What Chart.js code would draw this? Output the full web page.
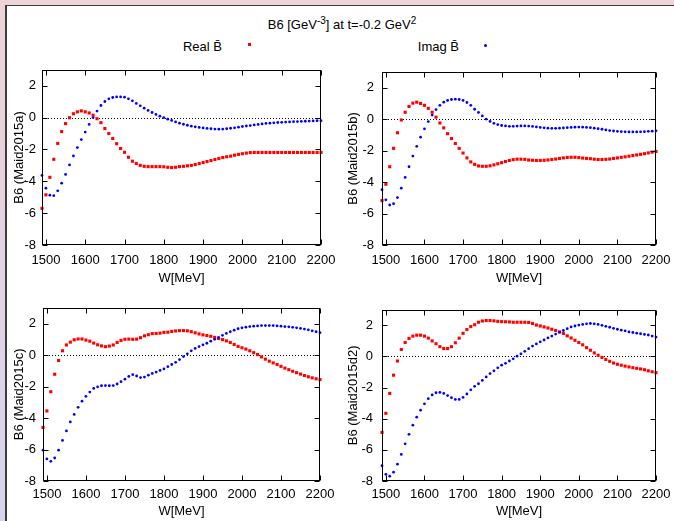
<!DOCTYPE html>
<html lang="en">
<head>
    <meta charset="UTF-8">
    <title>B6 Maid2015</title>
    <script src="https://cdnjs.cloudflare.com/ajax/libs/Chart.js/4.4.1/chart.umd.min.js"></script>
    <style>
        html, body {
            margin: 0;
            width: 674px;
            height: 521px;
            overflow: hidden;
        }
        body {
            position: relative;
            background: linear-gradient(to bottom, #eed3d7, #d7d3ef);
            font-family: "Liberation Sans", Arial, sans-serif;
            color: #000;
        }
        #frame {
            position: absolute;
            left: 5px;
            top: 5px;
            right: 0;
            bottom: 0;
            background: #fff;
            border-left: 2px solid #3c3c3c;
            border-top: 1px solid #3c3c3c;
        }
        #title, .key {
            position: absolute;
            font-size: 13px;
            line-height: 16px;
            white-space: nowrap;
        }
        #title {
            left: 242px;
            width: 200px;
            top: 17px;
            text-align: center;
        }
        #title sup {
            font-size: 10px;
            line-height: 0;
            vertical-align: 5px;
        }
        .key {
            width: 100px;
            top: 39px;
            text-align: right;
        }
        .mark {
            position: absolute;
            width: 3px;
            height: 3px;
        }
        canvas {
            position: absolute;
        }
    </style>
</head>
<body>
    <div id="frame"></div>
    <div id="title">B6 [GeV<sup>-3</sup>] at t=-0.2 GeV<sup>2</sup></div>
    <div class="key" style="left:122px">Real B&#772;</div>
    <div class="mark" style="left:248px; top:43px; background:#f00"></div>
    <div class="key" style="left:359px">Imag B&#772;</div>
    <div class="mark" style="left:484px; top:44px; background:#00f; border-radius:50%"></div>

    <canvas id="c1" width="339" height="234" style="left:6px; top:56px"></canvas>
    <canvas id="c2" width="340" height="234" style="left:340px; top:56px"></canvas>
    <canvas id="c3" width="338" height="228" style="left:6px; top:293px"></canvas>
    <canvas id="c4" width="340" height="228" style="left:340px; top:293px"></canvas>

    <script>
        // energy grid W [MeV]
        const W = [
            1490, 1500, 1510, 1520, 1530, 1540, 1550, 1560, 1570, 1580, 1590, 1600,
            1610, 1620, 1630, 1640, 1650, 1660, 1670, 1680, 1690, 1700, 1710, 1720,
            1730, 1740, 1750, 1760, 1770, 1780, 1790, 1800, 1810, 1820, 1830, 1840,
            1850, 1860, 1870, 1880, 1890, 1900, 1910, 1920, 1930, 1940, 1950, 1960,
            1970, 1980, 1990, 2000, 2010, 2020, 2030, 2040, 2050, 2060, 2070, 2080,
            2090, 2100, 2110, 2120, 2130, 2140, 2150, 2160, 2170, 2180, 2190, 2200
        ];

        const wTicks = [1500, 1600, 1700, 1800, 1900, 2000, 2100, 2200];
        const yTicks = [-8, -6, -4, -2, 0, 2];

        const realA = [
            -5.70, -4.85, -3.75, -2.62, -1.62, -0.88, -0.38, -0.01, 0.24, 0.36, 0.42, 0.36,
            0.29, 0.15, -0.07, -0.32, -0.69, -1.00, -1.31, -1.64, -1.94, -2.18, -2.49, -2.74,
            -2.88, -3.00, -3.06, -3.08, -3.08, -3.08, -3.08, -3.09, -3.12, -3.14, -3.12, -3.08,
            -3.06, -3.03, -3.00, -2.95, -2.89, -2.82, -2.76, -2.70, -2.63, -2.57, -2.51, -2.46,
            -2.42, -2.36, -2.31, -2.27, -2.23, -2.20, -2.19, -2.19, -2.19, -2.19, -2.19, -2.19,
            -2.19, -2.19, -2.19, -2.19, -2.19, -2.19, -2.19, -2.19, -2.19, -2.19, -2.19, -2.19
        ];
        const imagA = [
            -3.63, -4.43, -4.87, -4.90, -4.60, -4.12, -3.57, -2.97, -2.41, -1.88, -1.38, -0.91,
            -0.43, 0.00, 0.41, 0.76, 1.01, 1.18, 1.26, 1.30, 1.30, 1.28, 1.18, 1.05,
            0.89, 0.74, 0.59, 0.45, 0.32, 0.20, 0.09, 0.00, -0.10, -0.18, -0.27, -0.35,
            -0.42, -0.48, -0.54, -0.58, -0.62, -0.65, -0.68, -0.70, -0.72, -0.73, -0.72, -0.70,
            -0.67, -0.64, -0.60, -0.56, -0.53, -0.50, -0.46, -0.43, -0.40, -0.37, -0.35, -0.33,
            -0.31, -0.30, -0.28, -0.27, -0.26, -0.25, -0.24, -0.23, -0.22, -0.21, -0.20, -0.20
        ];

        const realB = [
            -5.18, -4.14, -3.03, -1.86, -0.87, -0.06, 0.43, 0.80, 1.01, 1.07, 0.99, 0.87,
            0.68, 0.43, 0.12, -0.25, -0.56, -0.93, -1.24, -1.55, -1.86, -2.16, -2.47, -2.72,
            -2.88, -2.98, -3.00, -3.00, -2.97, -2.91, -2.84, -2.77, -2.70, -2.63, -2.58, -2.55,
            -2.55, -2.56, -2.60, -2.62, -2.63, -2.63, -2.62, -2.60, -2.57, -2.54, -2.50, -2.47,
            -2.44, -2.43, -2.43, -2.45, -2.48, -2.50, -2.52, -2.55, -2.57, -2.57, -2.56, -2.54,
            -2.50, -2.47, -2.43, -2.40, -2.36, -2.32, -2.28, -2.24, -2.20, -2.15, -2.10, -2.06
        ];
        const imagB = [
            -4.49, -5.13, -5.46, -5.38, -4.99, -4.39, -3.71, -3.03, -2.35, -1.73, -1.15, -0.62,
            -0.16, 0.25, 0.60, 0.87, 1.07, 1.18, 1.24, 1.26, 1.24, 1.18, 1.05, 0.87,
            0.62, 0.42, 0.20, 0.00, -0.15, -0.27, -0.35, -0.41, -0.44, -0.46, -0.46, -0.45,
            -0.44, -0.44, -0.45, -0.47, -0.50, -0.53, -0.56, -0.58, -0.59, -0.59, -0.58, -0.57,
            -0.55, -0.53, -0.52, -0.51, -0.52, -0.53, -0.55, -0.58, -0.61, -0.65, -0.69, -0.73,
            -0.76, -0.78, -0.80, -0.81, -0.82, -0.82, -0.82, -0.81, -0.80, -0.78, -0.77, -0.75
        ];

        const realC = [
            -4.60, -3.55, -2.33, -1.22, -0.35, 0.27, 0.64, 0.82, 0.97, 1.02, 1.02, 0.95,
            0.88, 0.76, 0.65, 0.58, 0.53, 0.57, 0.64, 0.80, 0.93, 1.00, 1.01, 1.00,
            1.01, 1.10, 1.22, 1.29, 1.36, 1.37, 1.39, 1.44, 1.45, 1.50, 1.53, 1.55,
            1.55, 1.54, 1.48, 1.41, 1.34, 1.28, 1.24, 1.19, 1.12, 1.05, 0.98, 0.90,
            0.80, 0.67, 0.55, 0.46, 0.38, 0.27, 0.15, 0.03, -0.12, -0.26, -0.39, -0.50,
            -0.60, -0.72, -0.83, -0.93, -1.03, -1.12, -1.21, -1.30, -1.38, -1.45, -1.51, -1.56
        ];
        const imagC = [
            -6.04, -6.60, -6.75, -6.54, -6.04, -5.42, -4.82, -4.25, -3.77, -3.32, -2.93, -2.62,
            -2.35, -2.12, -2.02, -1.95, -1.94, -1.95, -1.94, -1.84, -1.69, -1.53, -1.36, -1.25,
            -1.33, -1.43, -1.40, -1.28, -1.17, -1.08, -0.98, -0.88, -0.74, -0.60, -0.46, -0.29,
            -0.10, 0.08, 0.27, 0.42, 0.54, 0.65, 0.75, 0.88, 1.00, 1.12, 1.25, 1.37,
            1.48, 1.58, 1.67, 1.73, 1.77, 1.81, 1.83, 1.85, 1.87, 1.87, 1.87, 1.87,
            1.85, 1.83, 1.81, 1.79, 1.76, 1.73, 1.69, 1.65, 1.60, 1.54, 1.48, 1.42
        ];

        const realD = [
            -4.88, -3.65, -2.37, -1.20, -0.29, 0.45, 0.90, 1.16, 1.31, 1.37, 1.37, 1.31,
            1.18, 1.00, 0.82, 0.63, 0.51, 0.51, 0.63, 0.88, 1.18, 1.49, 1.73, 1.92,
            2.04, 2.20, 2.28, 2.31, 2.31, 2.29, 2.26, 2.24, 2.23, 2.22, 2.20, 2.20,
            2.20, 2.20, 2.19, 2.12, 2.02, 1.96, 1.90, 1.83, 1.75, 1.67, 1.58, 1.48,
            1.33, 1.19, 1.04, 0.90, 0.75, 0.57, 0.40, 0.23, 0.08, -0.06, -0.19, -0.31,
            -0.42, -0.50, -0.56, -0.62, -0.67, -0.72, -0.76, -0.80, -0.85, -0.92, -0.98, -1.04
        ];
        const imagD = [
            -7.02, -7.57, -7.69, -7.43, -6.92, -6.29, -5.61, -5.00, -4.41, -3.90, -3.45, -3.04,
            -2.71, -2.47, -2.33, -2.31, -2.37, -2.51, -2.65, -2.76, -2.76, -2.63, -2.41, -2.14,
            -1.92, -1.75, -1.54, -1.31, -1.10, -0.92, -0.73, -0.56, -0.44, -0.29, -0.15, 0.02,
            0.17, 0.33, 0.50, 0.67, 0.81, 0.94, 1.06, 1.19, 1.31, 1.44, 1.56, 1.67,
            1.79, 1.90, 1.96, 2.02, 2.06, 2.10, 2.12, 2.10, 2.06, 2.00, 1.94, 1.88,
            1.81, 1.75, 1.69, 1.65, 1.58, 1.54, 1.50, 1.46, 1.42, 1.38, 1.31, 1.25
        ];

        const models = ['Maid2015a', 'Maid2015b', 'Maid2015c', 'Maid2015d2'];

        // canvas id, y-axis box width, x-axis box height, paddings
        const panels = [
            { id: 'c1', real: realA, imag: imagA, yw: 36, xh: 45, tickPad: 8, xTitlePad: 4, yTickPad: 6 },
            { id: 'c2', real: realB, imag: imagB, yw: 42, xh: 45, tickPad: 8, xTitlePad: 4, yTickPad: 8 },
            { id: 'c3', real: realC, imag: imagC, yw: 37, xh: 40, tickPad: 6, xTitlePad: 2, yTickPad: 7 },
            { id: 'c4', real: realD, imag: imagD, yw: 42, xh: 40, tickPad: 6, xTitlePad: 2, yTickPad: 9 }
        ];

        const font = { family: '"Liberation Sans", Arial, sans-serif', size: 13 };

        // gnuplot-like frame: inward ticks on all four sides, dotted zero axis
        const framePlugin = {
            id: 'frame',
            beforeDatasetsDraw(chart) {
                const { ctx, chartArea: a, scales: { y } } = chart;
                const y0 = Math.round(y.getPixelForValue(0)) + 0.5;
                ctx.save();
                ctx.strokeStyle = '#000';
                ctx.lineWidth = 1;
                ctx.setLineDash([1, 2]);
                ctx.beginPath();
                ctx.moveTo(a.left, y0);
                ctx.lineTo(a.right, y0);
                ctx.stroke();
                ctx.restore();
            },
            afterDraw(chart) {
                const { ctx, chartArea: a, scales: { x, y } } = chart;
                const L = Math.round(a.left) + 0.5, R = Math.round(a.right) - 0.5;
                const T = Math.round(a.top) + 0.5, B = Math.round(a.bottom) - 0.5;
                const len = 5;
                ctx.save();
                ctx.strokeStyle = '#000';
                ctx.lineWidth = 1;
                ctx.beginPath();
                x.ticks.forEach(t => {
                    const px = Math.round(x.getPixelForValue(t.value)) + 0.5;
                    ctx.moveTo(px, B); ctx.lineTo(px, B - len);
                    ctx.moveTo(px, T); ctx.lineTo(px, T + len);
                });
                y.ticks.forEach(t => {
                    const py = Math.round(y.getPixelForValue(t.value)) + 0.5;
                    ctx.moveTo(L, py); ctx.lineTo(L + len, py);
                    ctx.moveTo(R, py); ctx.lineTo(R - len, py);
                });
                ctx.stroke();
                ctx.strokeRect(L, T, R - L, B - T);
                ctx.restore();
            }
        };

        function series(values) {
            return W.map((w, i) => ({ x: w, y: values[i] }));
        }

        panels.forEach((p, k) => {
            new Chart(document.getElementById(p.id), {
                type: 'scatter',
                data: {
                    datasets: [
                        {
                            label: 'Real',
                            data: series(p.real),
                            pointStyle: 'rect',
                            pointRadius: 2.2,
                            pointBorderWidth: 0,
                            backgroundColor: '#ff0000',
                            clip: false,
                            order: 2
                        },
                        {
                            label: 'Imag',
                            data: series(p.imag),
                            pointStyle: 'circle',
                            pointRadius: 1.4,
                            pointBorderWidth: 0,
                            backgroundColor: '#0000ff',
                            clip: false,
                            order: 1
                        }
                    ]
                },
                options: {
                    responsive: false,
                    animation: false,
                    devicePixelRatio: 1,
                    layout: { padding: { top: 11, right: 24, left: 0, bottom: 0 } },
                    plugins: {
                        legend: { display: false },
                        tooltip: { enabled: false }
                    },
                    scales: {
                        x: {
                            type: 'linear',
                            min: 1490,
                            max: 2200,
                            grid: { display: false, drawTicks: false },
                            border: { display: false },
                            afterBuildTicks: s => { s.ticks = wTicks.map(v => ({ value: v })); },
                            afterFit: s => { s.height = p.xh; },
                            ticks: {
                                font: font,
                                color: '#000',
                                padding: p.tickPad,
                                maxRotation: 0,
                                autoSkip: false,
                                callback: v => String(v)
                            },
                            title: {
                                display: true,
                                text: 'W[MeV]',
                                font: font,
                                color: '#000',
                                padding: { top: 0, bottom: p.xTitlePad }
                            }
                        },
                        y: {
                            min: -8,
                            max: 3,
                            grid: { display: false, drawTicks: false },
                            border: { display: false },
                            afterBuildTicks: s => { s.ticks = yTicks.map(v => ({ value: v })); },
                            afterFit: s => { s.width = p.yw; },
                            ticks: {
                                font: font,
                                color: '#000',
                                padding: p.yTickPad,
                                callback: v => String(v)
                            },
                            title: {
                                display: true,
                                text: 'B6 (' + models[k] + ')',
                                font: font,
                                color: '#000',
                                padding: { top: 6, bottom: 0 }
                            }
                        }
                    }
                },
                plugins: [framePlugin]
            });
        });
    </script>
</body>
</html>
